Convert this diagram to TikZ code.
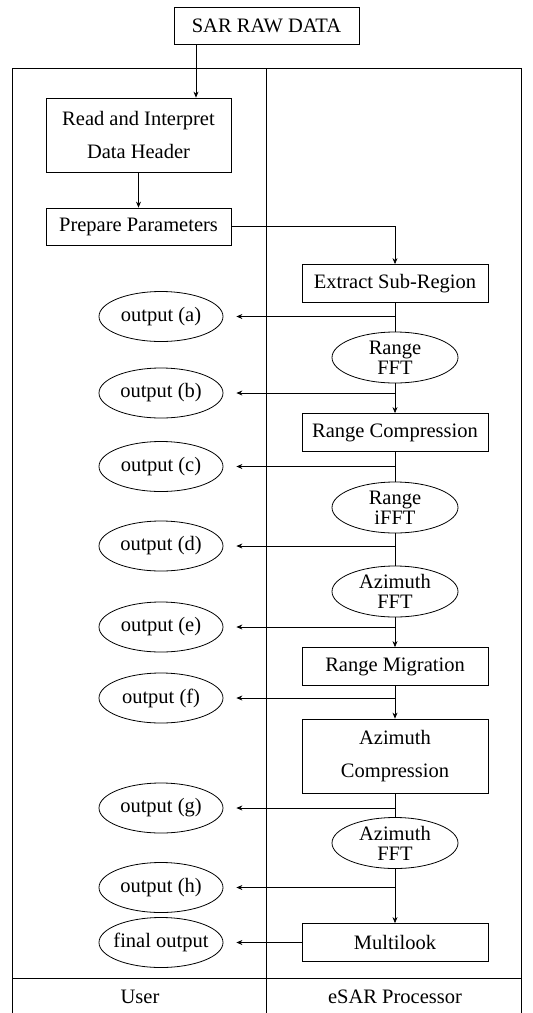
\documentclass[tikz,border=0pt]{standalone}
\usepackage{fontspec}
\setmainfont{Liberation Serif}
\usetikzlibrary{shapes.geometric,arrows.meta}
\begin{document}
\begin{tikzpicture}[x=1pt,y=-1pt,
  every node/.style={inner sep=0pt, font=\fontsize{20.5}{33}\selectfont, align=center},
  procbox/.style={draw, line width=0.8pt, minimum width=186pt, minimum height=38pt},
  userbox/.style={draw, line width=0.8pt, minimum width=185pt, minimum height=37pt},
  oval/.style={draw, ellipse, line width=0.8pt, minimum width=126pt, minimum height=51pt, font=\fontsize{20.5}{20}\selectfont},
  outoval/.style={draw, ellipse, line width=0.8pt, minimum width=124pt, minimum height=50pt},
  flow/.style={line width=0.7pt, -{Stealth[length=6pt,width=5pt]}},
  plain/.style={line width=0.7pt},
  tap/.style={line width=0.7pt, -{Stealth[length=6pt,width=5pt]}, shorten >=13pt},
  frame/.style={line width=0.9pt}]
\useasboundingbox (0,0) rectangle (533,1013);

% lanes
\draw[frame] (12,1013) -- (12,68) -- (521,68) -- (521,1013);
\draw[frame] (266,68) -- (266,1013);
\draw[frame] (12,978) -- (521,978);
\node (userlbl) at (140,997) {User};
\node (proclbl) at (395,997) {eSAR Processor};

% user side
\node[userbox] (sar) at (266.5,25.5) {SAR RAW DATA};
\node[userbox, minimum height=74pt] (read) at (138.5,135) {Read and Interpret\\Data Header};
\node[userbox] (prep) at (138.5,226.5) {Prepare Parameters};

% processor chain
\node[procbox] (extract) at (395,283.5) {Extract Sub-Region};
\node[oval] (rfft) at (395,357.5) {Range\\FFT};
\node[procbox] (rcomp) at (395,432.5) {Range Compression};
\node[oval] (rifft) at (395,507.5) {Range\\iFFT};
\node[oval] (afft) at (395,591.5) {Azimuth\\FFT};
\node[procbox] (rmig) at (395,666.5) {Range Migration};
\node[procbox, minimum height=74pt] (acomp) at (395,756) {Azimuth\\Compression};
\node[oval] (afft2) at (395,843) {Azimuth\\FFT};
\node[procbox] (multi) at (395,942.5) {Multilook};

% outputs
\node[outoval] (oa) at (161,316.5) {output (a)};
\node[outoval] (ob) at (161,393) {output (b)};
\node[outoval] (oc) at (161,466.5) {output (c)};
\node[outoval] (od) at (161,546) {output (d)};
\node[outoval] (oe) at (161,627) {output (e)};
\node[outoval] (of) at (161,698) {output (f)};
\node[outoval] (og) at (161,808) {output (g)};
\node[outoval] (oh) at (161,887.5) {output (h)};
\node[outoval, inner xsep=-12pt] (ofin) at (161,942.5) {final output};

% taps on the processor chain
\coordinate (ja) at (extract.center |- oa.center);
\coordinate (jb) at (extract.center |- ob.center);
\coordinate (jc) at (extract.center |- oc.center);
\coordinate (jd) at (extract.center |- od.center);
\coordinate (je) at (extract.center |- oe.center);
\coordinate (jf) at (extract.center |- of.center);
\coordinate (jg) at (extract.center |- og.center);
\coordinate (jh) at (extract.center |- oh.center);

% main flow
\draw[flow] (sar.south -| 196,0) -- (read.north -| 196,0);
\draw[flow] (read) -- (prep);
\draw[flow] (prep.east) -| (extract.north);
\draw[plain] (extract) -- (rfft);
\draw[flow] (rfft) -- (rcomp);
\draw[plain] (rcomp) -- (rifft);
\draw[plain] (rifft) -- (afft);
\draw[flow] (afft) -- (rmig);
\draw[flow] (rmig) -- (acomp);
\draw[plain] (acomp) -- (afft2);
\draw[flow] (afft2) -- (multi);

% outputs to the user
\draw[tap] (ja) -- (oa.east);
\draw[tap] (jb) -- (ob.east);
\draw[tap] (jc) -- (oc.east);
\draw[tap] (jd) -- (od.east);
\draw[tap] (je) -- (oe.east);
\draw[tap] (jf) -- (of.east);
\draw[tap] (jg) -- (og.east);
\draw[tap] (jh) -- (oh.east);
\draw[tap] (multi.west) -- (ofin.east);
\end{tikzpicture}
\end{document}
